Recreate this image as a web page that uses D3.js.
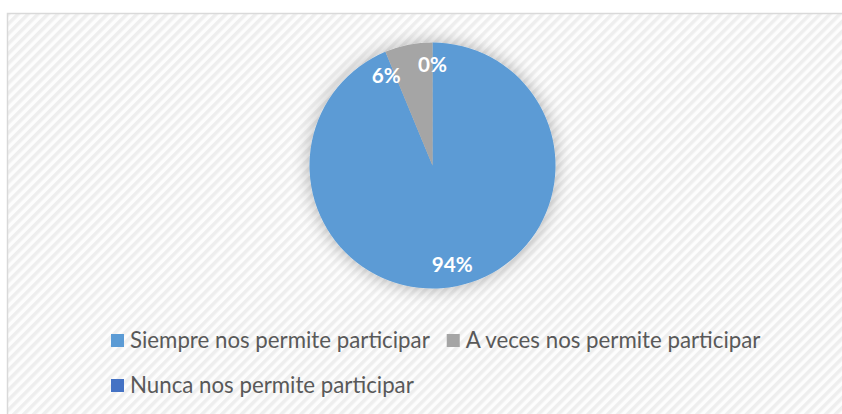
<!DOCTYPE html>
<html>
<head>
<meta charset="utf-8">
<script src="https://cdn.jsdelivr.net/npm/d3@7"></script>
<style>
  body { margin: 0; background: #fff; }
  svg { display: block; }
</style>
</head>
<body>
<div id="chart"></div>
<script>
// data
const categories = ["Siempre nos permite participar", "A veces nos permite participar", "Nunca nos permite participar"];
const values = [15, 1, 0];
const colors = ["#5b9bd5", "#a5a5a5", "#4472c4"];

const width = 842;
const height = 414;
const cx = 432.5, cy = 165.5, radius = 123;
const fontFam = "Lato, 'Open Sans', sans-serif";

const svg = d3.select("#chart")
  .append("svg")
  .attr("width", width)
  .attr("height", height);

const defs = svg.append("defs");

// hatched background
const pat = defs.append("pattern")
  .attr("id", "hatch")
  .attr("patternUnits", "userSpaceOnUse")
  .attr("width", 7)
  .attr("height", 7)
  .attr("patternTransform", "rotate(45)");
pat.append("rect").attr("width", 7).attr("height", 7).attr("fill", "#fdfdfd");
pat.append("rect").attr("width", 3.5).attr("height", 7).attr("fill", "#eeeeee");

const shadow = defs.append("filter")
  .attr("id", "glow")
  .attr("x", "-30%").attr("y", "-30%")
  .attr("width", "160%").attr("height", "160%");
shadow.append("feGaussianBlur").attr("in", "SourceAlpha").attr("stdDeviation", 9).attr("result", "b");
shadow.append("feComponentTransfer").attr("in", "b").attr("result", "s")
  .append("feFuncA").attr("type", "linear").attr("slope", 0.3);
const merge = shadow.append("feMerge");
merge.append("feMergeNode").attr("in", "s");
merge.append("feMergeNode").attr("in", "SourceGraphic");

// chart area (runs past the right and bottom edge)
svg.append("rect")
  .attr("x", 7.5).attr("y", 13.5)
  .attr("width", 860).attr("height", 420)
  .attr("fill", "url(#hatch)")
  .attr("stroke", "#d9d9d9")
  .attr("stroke-width", 1.5);

const total = d3.sum(values);
const pie = d3.pie().sort(null).value(d => d)(values);
const arc = d3.arc().innerRadius(0).outerRadius(radius);

const g = svg.append("g").attr("transform", `translate(${cx},${cy})`);

g.append("g")
  .attr("filter", "url(#glow)")
  .selectAll("path")
  .data(pie)
  .enter().append("path")
  .attr("d", arc)
  .attr("fill", (d, i) => colors[i]);

// labels
const labelR = radius * 0.82;
const labels = g.append("g")
  .selectAll("text")
  .data(pie)
  .enter().append("text")
  .attr("text-anchor", "middle")
  .attr("font-family", fontFam)
  .attr("font-weight", "bold")
  .attr("font-size", 20)
  .attr("fill", "#fff")
  .text(d => Math.round(d.data / total * 100) + "%");

// size labels so "94%" is about 41px wide
const w0 = labels.nodes()[0].getComputedTextLength();
const lblSize = 20 * 41 / w0;
labels.attr("font-size", lblSize);

const ang = pie.map(d => (d.startAngle + d.endAngle) / 2);
const pos = a => [Math.sin(a) * labelR, -Math.cos(a) * labelR];
// push small labels apart (walk backwards)
const widths = [];
labels.each(function () { widths.push(this.getComputedTextLength()); });
for (let i = ang.length - 2; i >= 0; i--) {
  let guard = 0;
  while (guard++ < 90) {
    const p1 = pos(ang[i]), p2 = pos(ang[i + 1]);
    const gap = Math.abs(p2[0] - p1[0]) - (widths[i] + widths[i + 1]) / 2;
    if (gap >= 17 || Math.abs(p2[1] - p1[1]) > 20) break;
    ang[i] -= Math.PI / 180;
  }
}
labels
  .attr("x", (d, i) => pos(ang[i])[0])
  .attr("y", (d, i) => pos(ang[i])[1] + lblSize * 0.36);

// legend
const legend = svg.append("g").attr("font-family", fontFam).attr("font-size", 20);
const rowY = [341, 386];
const items = categories.map((c, i) => {
  const it = legend.append("g");
  it.append("rect")
    .attr("y", -7)
    .attr("width", 13).attr("height", 13)
    .attr("fill", colors[i]);
  it.append("text")
    .attr("x", 19).attr("y", 7)
    .attr("fill", "#595959")
    .text(c);
  return it;
});
// fit first legend label to ~300px
const t0 = items[0].select("text").node().getComputedTextLength();
const legSize = 20 * 300 / t0;
legend.attr("font-size", legSize);
const col2 = 111 + 19 + items[0].select("text").node().getComputedTextLength() + 17;
const colX = [111, col2];
items.forEach((it, i) => {
  it.attr("transform", `translate(${colX[i % 2]},${rowY[Math.floor(i / 2)]})`);
});
</script>
</body>
</html>
